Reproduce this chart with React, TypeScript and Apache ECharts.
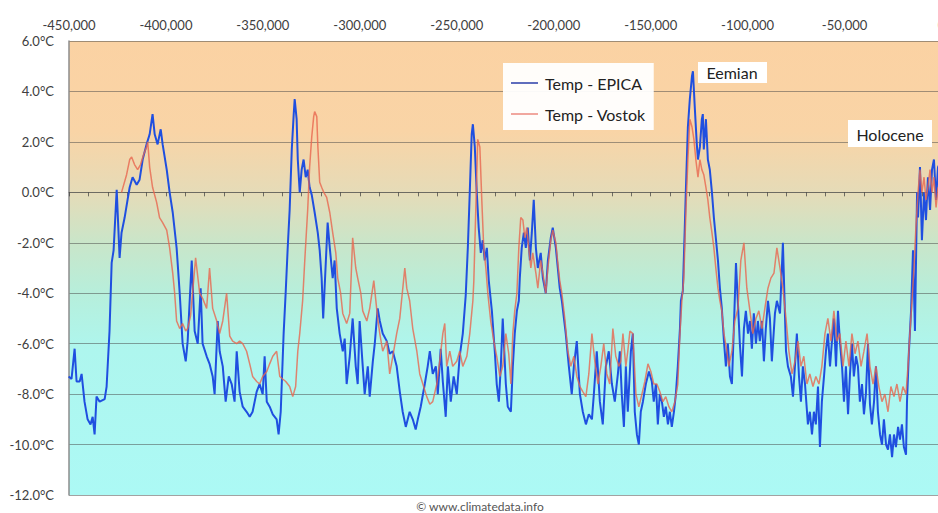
import React, { useEffect, useRef } from "react";
import * as echarts from "echarts";

// Age in thousands of years (negative = before present), temperature anomaly in °C
const epicaPoints: [number, number][] = [
  [-450.2,-7.3],[-448.7,-7.4],[-447.1,-6.2],[-446.1,-7.5],[-444.5,-7.5],[-443.5,-7.2],[-442.0,-8.3],[-440.4,-9.0],
  [-438.9,-9.2],[-437.8,-8.9],[-436.8,-9.6],[-435.8,-8.1],[-434.2,-8.3],[-431.6,-8.2],[-430.6,-7.7],[-429.1,-5.5],
  [-428.0,-2.8],[-427.0,-2.3],[-425.4,0.1],[-423.9,-2.6],[-422.9,-1.6],[-421.3,-1.0],[-419.8,-0.3],[-418.7,0.2],
  [-417.2,0.6],[-415.1,0.3],[-413.6,0.5],[-412.0,1.3],[-410.0,1.9],[-408.4,2.3],[-406.9,3.1],[-405.8,2.3],
  [-404.3,1.9],[-402.7,2.5],[-401.7,1.9],[-399.6,0.9],[-398.1,0.0],[-396.5,-0.8],[-394.5,-2.2],[-392.9,-4.0],
  [-391.4,-6.0],[-389.8,-6.7],[-388.8,-5.9],[-386.7,-2.7],[-385.2,-5.5],[-383.6,-6.0],[-382.1,-3.8],[-381.1,-6.0],
  [-379.0,-6.5],[-377.5,-6.8],[-375.9,-7.3],[-374.9,-8.0],[-373.3,-5.1],[-372.3,-6.3],[-370.7,-6.9],[-369.2,-8.3],
  [-367.6,-7.3],[-366.1,-7.6],[-364.6,-8.3],[-363.5,-6.3],[-362.0,-7.9],[-360.4,-8.5],[-358.4,-8.7],[-356.8,-8.9],
  [-355.3,-8.7],[-353.2,-7.9],[-351.7,-7.6],[-350.1,-8.0],[-349.1,-6.5],[-348.0,-8.3],[-346.5,-8.5],[-344.9,-8.8],
  [-342.9,-9.0],[-341.9,-9.6],[-340.8,-8.7],[-339.3,-5.6],[-338.2,-3.9],[-337.2,-2.2],[-336.2,-0.7],[-335.1,1.7],
  [-334.1,3.1],[-333.6,3.7],[-332.6,2.9],[-332.0,1.3],[-331.0,0.0],[-330.0,0.9],[-329.0,1.3],[-327.9,0.6],
  [-326.9,0.9],[-325.9,0.2],[-324.8,-0.1],[-323.3,-0.8],[-321.7,-1.6],[-320.7,-2.3],[-319.7,-3.4],[-318.9,-5.0],
  [-316.6,-1.2],[-315.5,-2.2],[-314.0,-3.4],[-313.0,-2.7],[-311.9,-4.6],[-310.4,-5.6],[-308.8,-6.3],[-307.8,-5.8],
  [-306.8,-7.6],[-305.2,-6.5],[-303.7,-5.0],[-302.1,-6.9],[-301.1,-7.6],[-300.1,-5.1],[-298.5,-6.9],[-297.5,-8.0],
  [-295.9,-6.9],[-294.9,-8.1],[-293.3,-6.7],[-292.3,-6.0],[-290.8,-4.6],[-289.7,-5.1],[-288.2,-5.6],[-286.1,-5.9],
  [-284.6,-6.4],[-283.0,-6.3],[-281.0,-6.9],[-279.4,-7.9],[-277.9,-8.7],[-276.3,-9.3],[-274.3,-8.7],[-272.7,-9.0],
  [-271.2,-9.4],[-270.1,-9.0],[-268.6,-8.5],[-266.5,-7.6],[-265.0,-6.9],[-263.9,-6.3],[-262.4,-7.2],[-260.8,-6.9],
  [-259.8,-8.0],[-258.3,-6.2],[-257.2,-7.5],[-255.7,-8.9],[-254.6,-6.9],[-253.1,-8.3],[-251.6,-7.3],[-250.0,-8.0],
  [-248.5,-6.5],[-246.9,-5.6],[-245.4,-4.1],[-244.3,-2.2],[-243.3,0.0],[-242.3,2.3],[-241.7,2.7],[-240.7,1.8],
  [-239.7,0.0],[-238.7,-1.4],[-237.6,-2.4],[-236.6,-1.9],[-235.6,-2.7],[-234.5,-2.2],[-233.5,-3.5],[-231.9,-4.7],
  [-230.4,-6.3],[-229.4,-7.6],[-228.3,-8.3],[-227.3,-6.9],[-226.3,-5.0],[-224.7,-7.6],[-223.7,-8.5],[-222.1,-8.7],
  [-221.1,-6.9],[-220.1,-5.6],[-219.0,-4.7],[-218.0,-4.3],[-217.5,-3.4],[-216.5,-2.2],[-215.4,-1.6],[-214.4,-2.2],
  [-213.4,-1.4],[-212.3,-2.7],[-211.3,-1.6],[-210.3,-0.3],[-209.2,-2.2],[-208.2,-3.0],[-206.7,-2.4],[-205.6,-3.4],
  [-204.1,-4.0],[-203.0,-2.7],[-201.5,-1.8],[-200.5,-1.4],[-198.9,-2.2],[-197.9,-3.0],[-196.9,-3.8],[-195.8,-4.3],
  [-193.8,-5.6],[-192.2,-6.9],[-190.7,-8.0],[-189.6,-6.9],[-188.1,-5.9],[-186.5,-8.0],[-185.0,-8.7],[-183.4,-9.2],
  [-181.9,-8.8],[-180.3,-9.0],[-179.3,-8.0],[-177.8,-6.3],[-176.2,-8.3],[-174.7,-9.2],[-173.1,-6.9],[-171.6,-6.3],
  [-170.0,-7.6],[-168.5,-8.3],[-166.9,-7.2],[-165.9,-6.3],[-164.9,-8.0],[-163.8,-9.3],[-162.8,-6.9],[-161.8,-8.7],
  [-160.2,-6.3],[-159.2,-5.6],[-158.2,-8.7],[-157.1,-9.6],[-156.1,-10.0],[-155.1,-8.7],[-154.0,-8.3],[-152.5,-7.6],
  [-150.9,-7.1],[-149.4,-7.5],[-148.4,-8.3],[-147.3,-7.6],[-146.3,-9.2],[-145.3,-8.0],[-144.2,-8.3],[-143.2,-8.9],
  [-142.2,-8.5],[-141.1,-9.2],[-140.1,-8.7],[-139.1,-9.3],[-138.0,-8.7],[-137.0,-8.0],[-136.0,-6.9],[-134.9,-5.4],
  [-134.4,-4.3],[-133.4,-3.9],[-132.4,-1.4],[-131.8,0.2],[-130.8,2.6],[-129.8,3.7],[-128.7,4.6],[-128.2,4.8],
  [-127.2,3.3],[-126.2,1.9],[-125.6,1.3],[-124.6,1.8],[-123.6,2.9],[-123.1,3.1],[-122.6,1.7],[-121.5,2.9],
  [-120.5,1.3],[-119.5,0.9],[-118.4,0.0],[-117.4,-1.0],[-116.4,-1.8],[-115.3,-2.7],[-114.3,-3.8],[-113.3,-4.6],
  [-112.2,-5.9],[-111.2,-6.9],[-110.2,-6.0],[-109.1,-7.3],[-108.1,-7.6],[-107.1,-5.4],[-106.0,-2.8],[-105.0,-4.4],
  [-104.0,-6.0],[-102.9,-7.3],[-101.9,-5.4],[-100.9,-4.7],[-99.8,-5.6],[-98.8,-5.1],[-97.8,-6.2],[-96.8,-4.8],
  [-95.7,-6.0],[-94.7,-5.1],[-93.7,-5.9],[-92.6,-5.1],[-91.6,-6.7],[-90.6,-5.4],[-89.5,-4.3],[-88.5,-5.0],
  [-87.5,-6.7],[-85.9,-4.8],[-84.9,-4.3],[-83.3,-4.8],[-81.8,-2.0],[-80.2,-6.3],[-79.2,-6.9],[-77.7,-7.3],
  [-76.6,-8.1],[-75.6,-6.9],[-74.6,-5.6],[-73.5,-7.3],[-72.5,-8.3],[-71.5,-6.9],[-70.4,-7.6],[-68.9,-9.2],
  [-67.9,-8.7],[-66.8,-9.6],[-65.8,-8.7],[-64.8,-9.2],[-63.7,-7.7],[-62.7,-10.1],[-61.7,-8.3],[-60.6,-7.3],
  [-59.6,-6.3],[-58.6,-5.6],[-57.5,-6.9],[-56.5,-5.9],[-55.5,-5.0],[-54.4,-6.9],[-53.4,-4.7],[-52.4,-5.9],
  [-51.3,-6.9],[-50.3,-8.3],[-49.3,-6.9],[-48.2,-8.8],[-47.2,-7.2],[-46.2,-6.0],[-45.2,-7.3],[-44.1,-6.5],
  [-43.1,-6.9],[-42.1,-8.3],[-41.0,-7.6],[-40.0,-8.8],[-39.0,-8.0],[-37.9,-6.0],[-36.9,-8.4],[-35.9,-9.2],
  [-34.8,-8.3],[-33.8,-6.9],[-32.8,-8.7],[-31.7,-9.6],[-30.7,-10.0],[-29.7,-9.0],[-28.6,-10.0],[-27.6,-10.2],
  [-26.6,-9.6],[-25.5,-10.5],[-24.5,-9.6],[-23.5,-10.1],[-22.4,-9.3],[-21.4,-9.8],[-20.4,-9.2],[-19.4,-10.1],
  [-18.3,-10.4],[-17.8,-8.3],[-16.8,-6.3],[-15.7,-4.7],[-14.7,-2.3],[-13.7,-5.5],[-12.6,0.0],[-12.1,-1.0],
  [-11.1,1.0],[-10.1,-1.9],[-9.0,0.0],[-8.0,-1.1],[-7.0,0.6],[-5.9,-0.7],[-4.9,0.9],[-3.9,1.3],
  [-2.8,-0.3],[-1.8,1.0],[-0.5,1.2]
];

const vostokPoints: [number, number][] = [
  [-422.9,0.0],[-420.3,0.7],[-418.7,1.3],[-417.7,1.4],[-416.2,1.1],[-414.6,0.9],[-413.1,1.1],[-411.5,1.5],
  [-410.0,1.8],[-409.4,2.0],[-408.4,1.0],[-406.9,0.2],[-404.8,-0.4],[-403.3,-1.0],[-401.7,-1.2],[-399.6,-1.5],
  [-398.1,-2.2],[-396.5,-3.2],[-395.5,-4.0],[-394.5,-5.1],[-392.9,-5.4],[-391.4,-5.2],[-389.8,-5.5],[-388.8,-5.4],
  [-387.3,-4.9],[-384.7,-2.6],[-382.6,-4.0],[-381.1,-4.2],[-379.0,-4.6],[-377.5,-3.0],[-375.9,-4.6],[-373.8,-5.1],
  [-372.3,-5.6],[-370.7,-5.1],[-368.7,-4.0],[-367.1,-5.7],[-365.6,-5.9],[-363.5,-6.0],[-362.0,-5.9],[-360.4,-6.0],
  [-358.4,-6.3],[-356.8,-6.8],[-355.3,-7.3],[-353.2,-7.5],[-351.7,-7.6],[-350.1,-7.3],[-348.0,-7.1],[-346.5,-6.8],
  [-344.9,-6.5],[-342.9,-6.3],[-341.3,-7.3],[-339.8,-7.4],[-338.2,-7.5],[-336.2,-7.7],[-334.6,-8.1],[-333.1,-7.7],
  [-332.0,-6.3],[-331.0,-5.6],[-329.5,-4.3],[-328.4,-2.7],[-326.9,-0.7],[-325.9,1.0],[-324.8,2.2],[-323.8,3.0],
  [-323.3,3.2],[-322.2,3.0],[-321.7,1.9],[-320.7,0.4],[-319.7,0.2],[-318.6,0.0],[-317.1,-0.2],[-315.5,-0.8],
  [-314.0,-1.6],[-312.4,-2.4],[-311.4,-3.4],[-309.9,-4.0],[-308.8,-4.8],[-306.8,-5.2],[-305.2,-4.8],[-303.7,-1.8],
  [-302.1,-3.0],[-301.1,-3.4],[-299.5,-4.0],[-298.5,-4.7],[-296.4,-5.1],[-294.9,-4.6],[-292.8,-3.5],[-290.8,-5.0],
  [-289.7,-5.6],[-288.2,-6.3],[-286.1,-5.9],[-284.6,-7.2],[-283.0,-6.5],[-281.0,-5.6],[-279.4,-5.0],[-276.8,-3.0],
  [-275.8,-3.8],[-274.3,-4.3],[-272.7,-5.4],[-270.6,-6.3],[-269.1,-7.2],[-267.5,-7.6],[-265.5,-8.1],[-263.9,-8.4],
  [-262.4,-8.3],[-260.3,-7.6],[-258.8,-6.7],[-257.2,-5.6],[-256.2,-5.2],[-255.2,-6.9],[-253.6,-6.3],[-252.1,-6.9],
  [-250.0,-6.7],[-248.5,-6.3],[-246.9,-6.9],[-244.8,-6.5],[-243.3,-5.6],[-241.7,-4.3],[-241.2,-3.5],[-240.2,-0.7],
  [-239.2,2.1],[-238.1,1.8],[-237.1,-0.3],[-236.1,-2.2],[-235.0,-3.0],[-234.0,-4.0],[-232.5,-5.1],[-230.9,-5.9],
  [-229.4,-6.5],[-227.8,-7.3],[-226.3,-6.9],[-224.7,-5.6],[-223.2,-6.4],[-222.1,-7.6],[-221.1,-5.6],[-220.1,-4.7],
  [-219.0,-4.0],[-218.0,-2.2],[-217.0,-1.0],[-215.9,-1.1],[-214.9,-1.8],[-213.9,-1.4],[-212.9,-2.2],[-211.8,-3.0],
  [-210.8,-2.4],[-209.2,-3.2],[-208.2,-3.8],[-206.7,-2.7],[-205.6,-3.2],[-204.1,-4.0],[-203.0,-3.0],[-201.5,-1.9],
  [-200.5,-1.5],[-198.9,-2.0],[-197.9,-2.8],[-196.9,-3.5],[-195.8,-4.0],[-194.3,-5.0],[-192.7,-6.3],[-191.2,-6.9],
  [-189.6,-6.5],[-188.1,-7.3],[-186.5,-7.7],[-185.0,-7.9],[-183.4,-8.1],[-181.9,-7.2],[-180.3,-5.6],[-178.8,-6.7],
  [-177.2,-7.6],[-175.7,-6.9],[-174.2,-6.0],[-172.6,-7.2],[-171.1,-7.6],[-169.5,-5.4],[-168.0,-6.5],[-166.4,-6.9],
  [-165.4,-6.7],[-164.3,-5.6],[-162.8,-6.9],[-161.8,-6.3],[-160.7,-5.5],[-159.2,-5.6],[-157.6,-8.0],[-156.1,-8.5],
  [-154.5,-8.0],[-153.0,-7.5],[-151.4,-6.8],[-149.9,-7.1],[-148.4,-7.6],[-146.8,-7.6],[-145.3,-7.9],[-143.7,-8.3],
  [-142.2,-8.1],[-140.6,-8.5],[-139.1,-8.7],[-137.5,-8.3],[-136.0,-7.6],[-134.9,-5.6],[-133.9,-4.3],[-132.9,-3.4],
  [-131.8,-0.7],[-130.8,1.3],[-129.8,2.9],[-128.7,2.6],[-127.7,2.1],[-126.7,1.3],[-125.6,0.6],[-124.6,1.3],
  [-123.6,0.9],[-122.6,0.7],[-121.5,0.2],[-120.5,-0.3],[-119.5,-1.0],[-118.4,-1.6],[-117.4,-2.2],[-116.4,-3.0],
  [-115.3,-3.8],[-114.3,-4.3],[-113.3,-4.7],[-112.2,-5.6],[-110.7,-6.3],[-109.7,-6.9],[-108.1,-6.3],[-106.6,-5.1],
  [-105.0,-4.6],[-103.5,-2.7],[-101.9,-2.0],[-100.4,-3.8],[-98.8,-4.7],[-97.3,-5.6],[-95.7,-5.0],[-94.2,-4.7],
  [-92.6,-5.4],[-91.1,-4.6],[-89.5,-3.8],[-88.0,-3.4],[-86.4,-3.2],[-84.9,-2.2],[-83.3,-3.0],[-81.8,-3.8],
  [-80.2,-5.0],[-78.7,-6.3],[-77.1,-7.2],[-75.6,-6.7],[-74.0,-5.9],[-72.5,-6.9],[-71.0,-6.5],[-69.4,-7.6],
  [-67.9,-7.2],[-66.3,-7.7],[-64.8,-7.3],[-63.2,-7.6],[-61.7,-6.9],[-60.1,-5.6],[-58.6,-5.0],[-57.0,-5.9],
  [-55.5,-4.7],[-53.9,-5.9],[-52.4,-5.6],[-50.8,-6.9],[-49.3,-5.9],[-47.7,-6.9],[-46.2,-5.6],[-44.6,-6.4],
  [-43.1,-5.9],[-41.5,-6.9],[-40.0,-6.3],[-38.4,-5.6],[-36.9,-6.9],[-35.3,-7.6],[-33.8,-6.9],[-32.3,-7.7],
  [-30.7,-8.3],[-29.2,-8.0],[-27.6,-8.7],[-26.1,-7.7],[-24.5,-8.1],[-23.0,-7.6],[-21.4,-8.3],[-19.9,-7.7],
  [-18.3,-8.0],[-17.3,-6.9],[-16.3,-5.6],[-15.2,-4.3],[-14.2,-3.0],[-13.2,-1.4],[-12.1,0.0],[-11.1,0.9],
  [-10.1,0.0],[-9.0,0.6],[-8.0,-0.3],[-7.0,0.2],[-5.9,0.9],[-4.9,0.0],[-3.9,0.6],[-2.8,-0.6],[-1.8,0.2]
];

const seriesNames = ["Temp - EPICA", "Temp - Vostok"];
const yTicks = { min: -12, max: 6, step: 2 };
const xTicks = { min: -450000, max: 0, step: 50000, minorStep: 10000 };
const annotations = ["Eemian", "Holocene"];
const sourceNote = "© www.climatedata.info";

const FONT = "Lato, 'Open Sans', sans-serif";

export default function App() {
  const ref = useRef<HTMLDivElement>(null);

  useEffect(() => {
    if (!ref.current) return;
    const chart = echarts.init(ref.current, undefined, { renderer: "svg" });
    const toYears = (pts: [number, number][]) => pts.map(([k, t]) => [k * 1000, t]);

    const gridLine = "rgba(70,70,70,0.5)";
    // plot area: top 41, bottom 495 → zero line at 41 + 454 * 6 / 18
    const plotTop = 41;
    const plotH = 454;
    const zeroY = plotTop + (plotH * yTicks.max) / (yTicks.max - yTicks.min);

    chart.setOption({
      animation: false,
      grid: [
        {
          left: 69,
          top: plotTop,
          right: 18.5,
          height: plotH,
          show: true,
          borderWidth: 0,
          backgroundColor: {
            type: "linear",
            x: 0, y: 0, x2: 0, y2: 1,
            colorStops: [
              { offset: 0, color: "#FBD2A3" },
              { offset: 0.2, color: "#F9D4A6" },
              { offset: 0.33, color: "#E6DBB7" },
              { offset: 0.45, color: "#C8E6CA" },
              { offset: 0.56, color: "#B6EFDC" },
              { offset: 0.68, color: "#AEF6EE" },
              { offset: 1, color: "#ACF9F5" },
            ],
          },
        },
        // helper grid whose bottom edge sits on the 0 °C line (carries the minor-tick axis)
        { left: 69, top: plotTop, right: 18.5, height: zeroY - plotTop, show: false },
      ],
      legend: {
        orient: "vertical",
        left: 503,
        top: 63,
        data: [
          { name: seriesNames[0], itemStyle: { color: "#2A3CA8" } },
          { name: seriesNames[1], itemStyle: { color: "#EC8A80" } },
        ],
        icon: "rect",
        backgroundColor: "rgba(255,255,255,0.95)",
        padding: [12, 8, 8, 8],
        itemGap: 15,
        itemWidth: 27,
        itemHeight: 1.5,
        textStyle: { fontSize: 16, color: "#222", fontFamily: FONT, padding: [0, 0, 0, 2] },
      },
      xAxis: [
        {
          type: "value",
          gridIndex: 0,
          position: "top",
          min: xTicks.min,
          max: xTicks.max,
          interval: xTicks.step,
          axisLine: { show: false, onZero: false },
          axisTick: { show: false },
          splitLine: { show: false },
          axisLabel: {
            formatter: (v: number) => v.toLocaleString("en-US"),
            color: "#404040",
            fontSize: 13,
            fontFamily: FONT,
            margin: 10,
          },
        },
        {
          type: "value",
          gridIndex: 1,
          position: "bottom",
          min: xTicks.min,
          max: xTicks.max,
          interval: xTicks.minorStep,
          axisLine: { show: true, onZero: false, lineStyle: { color: gridLine, width: 1 } },
          axisTick: { show: true, length: 4, lineStyle: { color: "rgba(60,60,60,0.7)" } },
          axisLabel: { show: false },
          splitLine: { show: false },
        },
      ],
      yAxis: [
        {
          type: "value",
          gridIndex: 0,
          min: yTicks.min,
          max: yTicks.max,
          interval: yTicks.step,
          axisLine: { show: true, onZero: false, lineStyle: { color: "#8c8c8c", width: 1.5 } },
          axisTick: { show: false },
          axisLabel: {
            formatter: (v: number) => v.toFixed(1) + "°C",
            color: "#404040",
            fontSize: 13,
            fontFamily: FONT,
            margin: 15,
          },
          splitLine: { show: true, lineStyle: { color: gridLine, width: 1 } },
        },
        {
          type: "value",
          gridIndex: 1,
          min: 0,
          max: yTicks.max,
          show: false,
        },
      ],
      series: [
        {
          type: "line",
          name: seriesNames[0],
          xAxisIndex: 0,
          yAxisIndex: 0,
          data: toYears(epicaPoints),
          symbol: "none",
          lineStyle: { color: "#1F4FE0", width: 2 },
          itemStyle: { color: "#1F4FE0" },
          z: 2,
        },
        {
          type: "line",
          name: seriesNames[1],
          xAxisIndex: 0,
          yAxisIndex: 0,
          data: toYears(vostokPoints),
          symbol: "none",
          lineStyle: { color: "#E8664F", width: 1.5, opacity: 0.8 },
          itemStyle: { color: "#E8664F" },
          z: 3,
        },
      ],
      graphic: [
        { type: "rect", shape: { x: 698, y: 62, width: 69, height: 21 }, style: { fill: "#fff" }, z: 10 },
        {
          type: "text",
          z: 11,
          style: { text: annotations[0], x: 732, y: 72.5, fontSize: 16, fontFamily: FONT, fill: "#222", align: "center", verticalAlign: "middle" },
        },
        { type: "rect", shape: { x: 848, y: 120, width: 84, height: 27 }, style: { fill: "#fff" }, z: 10 },
        {
          type: "text",
          z: 11,
          style: { text: annotations[1], x: 890, y: 134, fontSize: 16, fontFamily: FONT, fill: "#222", align: "center", verticalAlign: "middle" },
        },
        {
          type: "text",
          z: 11,
          style: { text: sourceNote, x: 480, y: 506, fontSize: 12, fontFamily: FONT, fill: "#555", align: "center", verticalAlign: "middle" },
        },
      ],
    });

    return () => chart.dispose();
  }, []);

  return (
    <div style={{ position: "fixed", left: 0, top: 0, width: 938, height: 513, overflow: "hidden", background: "#fff" }}>
      <div ref={ref} style={{ position: "absolute", left: 0, top: 0, width: 960, height: 513 }} />
    </div>
  );
}
